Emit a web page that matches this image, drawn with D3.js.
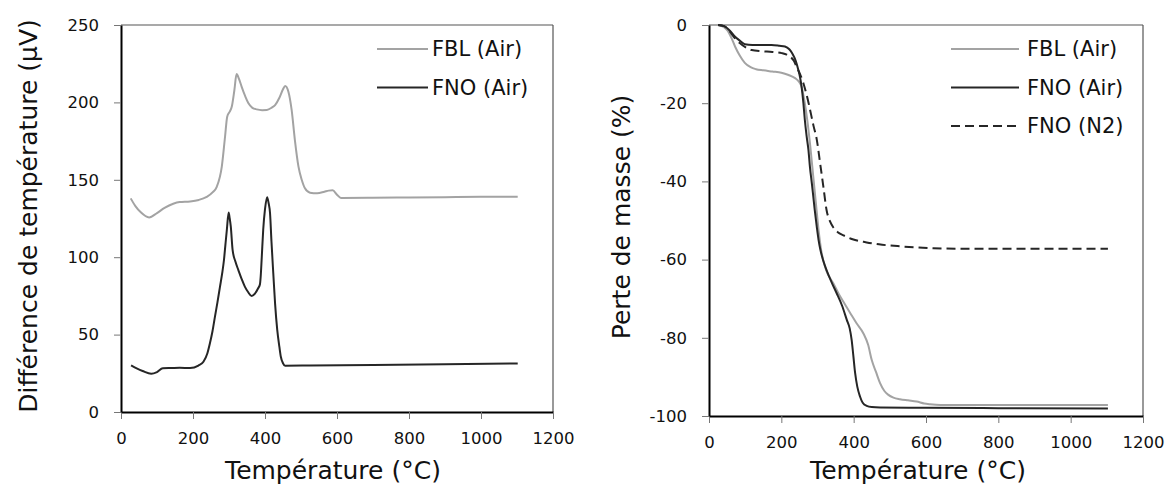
<!DOCTYPE html>
<html>
<head>
<meta charset="utf-8">
<script src="https://cdn.jsdelivr.net/npm/d3@7"></script>
<style>
  html, body { margin: 0; padding: 0; background: #fff; }
  svg { display: block; font-family: "DejaVu Sans", Verdana, sans-serif; }
</style>
</head>
<body>
<svg id="chart" width="1174" height="503"></svg>
<script>
// ---------- Data ----------
const xTicks = [0, 200, 400, 600, 800, 1000, 1200];
const dtaTicks = [0, 50, 100, 150, 200, 250];
const tgaTicks = [0, -20, -40, -60, -80, -100];

const xTitle = "Température (°C)";
const dtaTitle = "Différence de température (µV)";
const tgaTitle = "Perte de masse (%)";

const dtaSeriesNames = ["FBL (Air)", "FNO (Air)"];
const tgaSeriesNames = ["FBL (Air)", "FNO (Air)", "FNO (N2)"];

// DTA – FBL (Air)
const dtaFblT = [27, 40, 55, 78, 100, 121, 145, 163, 192, 216, 238, 255, 266, 280, 289, 295, 302, 308, 315, 321, 328, 335, 345, 354, 365, 377, 392, 405, 418, 428, 440, 450, 456, 465, 474, 483, 493, 502, 511, 525, 545, 565, 577, 588, 600, 611, 700, 800, 900, 1000, 1102];
const dtaFblV = [138, 133, 129, 125.7, 128.5, 131.8, 134.5, 135.6, 136, 137, 139, 142, 145.5, 158.5, 177.8, 190.8, 194, 197.5, 208, 218.3, 215, 210.2, 204, 199.4, 196.5, 195.5, 195, 195.1, 196.5, 198.3, 203, 208.5, 210.6, 206.9, 195.1, 175.7, 158.5, 150, 144.5, 141.7, 141.3, 142.3, 143, 143.2, 140.4, 138.3, 138.4, 138.6, 138.8, 139, 139.1];

// DTA – FNO (Air)
const dtaFnoT = [28, 45, 60, 84, 100, 116, 140, 163, 192, 215, 229, 240, 247, 254, 261, 268, 275, 281, 286, 290, 294, 299, 302, 305, 310, 318, 326, 335, 344, 353, 363, 372, 381, 386, 388, 391, 395, 400, 406, 410, 414, 418, 423, 428, 434, 440, 444, 450, 456, 525, 700, 900, 1102];
const dtaFnoV = [30.1, 28, 26.5, 24.7, 25.8, 28.2, 28.4, 28.6, 28.4, 30, 32.5, 38, 44.4, 52, 61.6, 71, 81, 89.5, 98.2, 108, 117.6, 128.8, 125, 119.7, 104.7, 97, 91.7, 86, 81, 77.5, 74.9, 76.5, 79.9, 82.5, 87.4, 100, 117.6, 131, 138.7, 135, 128.4, 110, 89.6, 70, 53, 42, 35.7, 31.5, 29.9, 30, 30.3, 30.8, 31.4];

// TGA – FBL (Air)
const tgaFblT = [25, 40, 52, 62, 72, 85, 99, 115, 130, 150, 175, 200, 220, 238, 248, 256, 264, 272, 280, 288, 296, 303, 310, 324, 344, 360, 377, 392, 408, 427, 440, 450, 462, 473, 485, 496, 510, 528, 550, 574, 595, 611, 640, 700, 900, 1103];
const tgaFblV = [0, -0.5, -1.5, -3.3, -5.5, -7.8, -9.7, -10.8, -11.3, -11.6, -11.9, -12.2, -12.8, -13.6, -14.4, -15.8, -19.5, -24.5, -31, -38.5, -46, -52.5, -57.5, -62.7, -66.1, -69, -71.6, -73.9, -76.3, -78.9, -81.8, -85.7, -88.8, -91.6, -93.6, -94.6, -95.3, -95.7, -96, -96.3, -96.8, -97, -97.2, -97.2, -97.2, -97.2];

// TGA – FNO (Air)
const tgaFnoT = [25, 42, 55, 70, 85, 99, 120, 145, 173, 195, 210, 222, 230, 240, 247, 252, 256, 261, 265, 270, 275, 279, 285, 292, 298, 303, 308, 316, 325, 340, 353, 368, 381, 389, 394.5, 399, 404, 410, 417.5, 425, 436, 450, 473, 600, 800, 1103];
const tgaFnoV = [0, -0.3, -1.2, -2.8, -4, -4.9, -5.1, -5.1, -5.1, -5.3, -5.5, -6.2, -7.2, -9.2, -11.5, -13.5, -15.8, -20, -24.3, -28.5, -32, -36.2, -41, -47, -51.6, -55, -57.5, -60.3, -62.7, -66, -68.6, -71.8, -75.4, -77.6, -80.6, -84.5, -89, -92.5, -95, -96.6, -97.4, -97.7, -97.8, -97.9, -98, -98.1];

// TGA – FNO (N2)
const tgaN2T = [25, 42, 55, 70, 85, 105, 118, 146, 175, 201, 215, 224, 235, 242, 252, 261, 268, 275, 282, 289, 298, 307, 316, 325, 335, 344, 356, 372, 397, 436, 470, 528, 580, 620, 700, 900, 1103];
const tgaN2V = [0, -0.3, -1.4, -3.2, -4.6, -5.9, -6.4, -6.7, -6.9, -7.2, -7.6, -8.1, -9.2, -10.7, -12.6, -14.9, -17.2, -19.8, -22.8, -25.8, -29.3, -35.2, -41.2, -47.3, -50.3, -51.8, -53, -53.8, -54.8, -55.6, -56.1, -56.6, -56.9, -57.1, -57.2, -57.2, -57.2];

// ---------- Drawing ----------
const svg = d3.select("#chart");
const GRAY = "#a3a3a3", DARK = "#262626";
const TICK_FONT = 16.5, TITLE_FONT = 25, LEG_FONT = 21;

function zip(T, V) { return T.map((t, i) => ({ t, v: V[i] })); }

function panel(opts) {
  const { x0, x1, yTop, yBot, yDomain, yTicks, yTitleX, titleX, series, legend } = opts;
  const x = d3.scaleLinear().domain([0, 1200]).range([x0, x1]);
  const y = d3.scaleLinear().domain(yDomain).range([yBot, yTop]);
  const g = svg.append("g");

  // frame (top / right)
  g.append("line").attr("x1", x0).attr("x2", x1).attr("y1", yTop).attr("y2", yTop)
    .attr("stroke", "#555").attr("stroke-width", 1.2);
  g.append("line").attr("x1", x1).attr("x2", x1).attr("y1", yTop).attr("y2", yBot)
    .attr("stroke", "#555").attr("stroke-width", 1.2);

  // x axis
  const xa = g.append("g").attr("transform", `translate(0,${yBot})`)
    .call(d3.axisBottom(x).tickValues(xTicks).tickSize(7).tickSizeOuter(0).tickFormat(d => String(d)));
  xa.select(".domain").attr("stroke", "#000").attr("stroke-width", 2);
  xa.selectAll(".tick line").attr("stroke", "#777").attr("stroke-width", 1);
  xa.selectAll(".tick text").attr("y", 26).attr("dy", "0.35em")
    .attr("font-size", TICK_FONT).attr("font-family", "DejaVu Sans").attr("fill", "#111");

  // y axis
  const ya = g.append("g").attr("transform", `translate(${x0},0)`)
    .call(d3.axisLeft(y).tickValues(yTicks).tickSize(7).tickSizeOuter(0).tickPadding(15).tickFormat(d => String(d)));
  ya.select(".domain").attr("stroke", "#000").attr("stroke-width", 2);
  ya.selectAll(".tick line").attr("stroke", "#777").attr("stroke-width", 1);
  ya.selectAll(".tick text").attr("font-size", TICK_FONT).attr("font-family", "DejaVu Sans").attr("fill", "#111");

  // series
  const line = d3.line().x(d => x(d.t)).y(d => y(d.v)).curve(d3.curveMonotoneX);
  series.forEach(s => {
    g.append("path").datum(zip(s.T, s.V)).attr("d", line)
      .attr("fill", "none").attr("stroke", s.color).attr("stroke-width", 2)
      .attr("stroke-dasharray", s.dash || null).attr("stroke-linejoin", "round");
  });

  // legend
  series.forEach((s, i) => {
    const ly = legend.y0 + i * legend.dy;
    g.append("line").attr("x1", legend.lx0).attr("x2", legend.lx1).attr("y1", ly).attr("y2", ly)
      .attr("stroke", s.color).attr("stroke-width", 2).attr("stroke-dasharray", s.dash || null);
    g.append("text").attr("x", legend.tx).attr("y", ly).attr("dy", "0.35em")
      .attr("font-size", LEG_FONT).attr("fill", "#111").text(s.name);
  });

  // titles
  g.append("text").attr("x", titleX).attr("y", 470).attr("dy", "0.35em")
    .attr("text-anchor", "middle").attr("font-size", TITLE_FONT).attr("fill", "#111").text(xTitle);
  g.append("text").attr("transform", `translate(${yTitleX},${opts.yTitleY}) rotate(-90)`)
    .attr("dy", "0.35em").attr("text-anchor", "middle").attr("font-size", TITLE_FONT)
    .attr("fill", "#111").text(opts.yTitle);
}

panel({
  x0: 121, x1: 553, yTop: 25, yBot: 412, yDomain: [0, 250], yTicks: dtaTicks,
  yTitle: dtaTitle, yTitleX: 28, yTitleY: 216, titleX: 333,
  series: [
    { name: dtaSeriesNames[0], T: dtaFblT, V: dtaFblV, color: GRAY },
    { name: dtaSeriesNames[1], T: dtaFnoT, V: dtaFnoV, color: DARK }
  ],
  legend: { lx0: 377, lx1: 428, tx: 432, y0: 49, dy: 38.5 }
});

panel({
  x0: 709, x1: 1143, yTop: 25, yBot: 416, yDomain: [-100, 0], yTicks: tgaTicks,
  yTitle: tgaTitle, yTitleX: 621, yTitleY: 217, titleX: 918,
  series: [
    { name: tgaSeriesNames[0], T: tgaFblT, V: tgaFblV, color: GRAY },
    { name: tgaSeriesNames[1], T: tgaFnoT, V: tgaFnoV, color: DARK },
    { name: tgaSeriesNames[2], T: tgaN2T, V: tgaN2V, color: DARK, dash: "9,5" }
  ],
  legend: { lx0: 951, lx1: 1019, tx: 1027, y0: 49, dy: 38.5 }
});
</script>
</body>
</html>
